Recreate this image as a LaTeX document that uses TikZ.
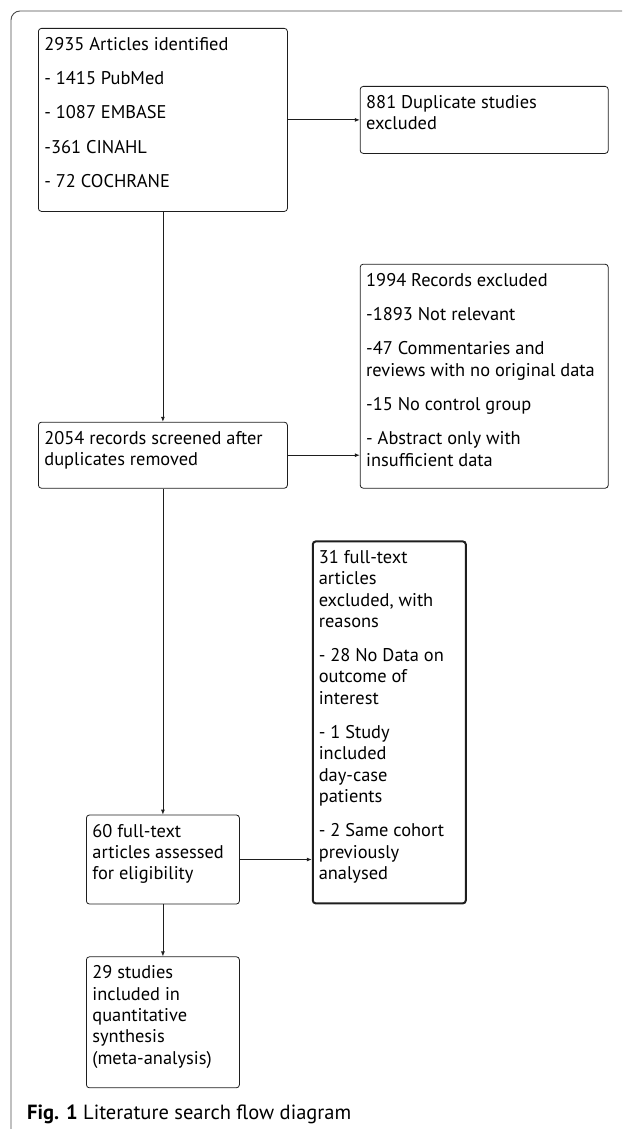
\documentclass[tikz,border=0pt]{standalone}
\usepackage{fontspec}
\setmainfont{PT Sans}
\usetikzlibrary{arrows.meta,positioning}
\definecolor{flowLine}{RGB}{30,30,30}
\colorlet{frameline}{black!70}

% fixed-size, top-aligned text block for a box
\newcommand{\boxtxt}[3]{\parbox[t][#2][t]{#1}{\raggedright\rule{0pt}{22pt}#3}}
\newcommand{\gap}{\\[13pt]}

\begin{document}
\begin{tikzpicture}[
  x=1pt,y=-1pt,
  every node/.style={font=\fontsize{18.4}{21.3}\selectfont},
  box/.style={draw=flowLine,rounded corners=3pt,line width=0.8pt,inner xsep=6pt,inner ysep=0pt,align=left},
  thickbox/.style={box,line width=2pt},
  arrow/.style={-{Latex[length=5pt,width=4pt]},line width=0.8pt,draw=flowLine}
]
\clip (0,0) rectangle (622,1129);
\draw[frameline,line width=0.9pt,rounded corners=9pt] (11,1140) -- (11,11) -- (640,11);

\node[box,anchor=north west] (ident) at (38,28) {\boxtxt{237pt}{183pt}{2935 Articles identified\gap
- 1415 PubMed\gap
- 1087 EMBASE\gap
-361 CINAHL\gap
- 72 COCHRANE}};
\node[box,right=72pt of ident] (dup) {\boxtxt{236pt}{67pt}{881 Duplicate studies\\
excluded}};
\node[box,below=210pt of ident] (screen) {\boxtxt{237pt}{66pt}{2054 records screened after\\
duplicates removed}};
\node[box,right=72pt of screen.south east,anchor=south west] (recex) {\boxtxt{236pt}{224pt}{1994 Records excluded\gap
-1893 Not relevant\gap
-47 Commentaries and\\
reviews with no original data\gap
-15 No control group\gap
- Abstract only with\\
insufficient data}};
\node[box,below=326pt of screen] (full) {\boxtxt{141pt}{89pt}{60 full-text\\
articles assessed\\
for eligibility}};
\node[thickbox,right=72pt of full.south east,anchor=south west] (ftex) {\boxtxt{141pt}{362pt}{31 full-text\\
articles\\
excluded, with\\
reasons\gap
- 28 No Data on\\
outcome of\\
interest\gap
- 1 Study\\
included\\
day-case\\
patients\gap
- 2 Same cohort\\
previously\\
analysed}};
\node[box,below=52pt of full] (incl) {\boxtxt{141pt}{131pt}{29 studies\\
included in\\
quantitative\\
synthesis\\
(meta-analysis)}};

\draw[arrow] (ident) -- (dup);
\draw[arrow] (ident) -- (screen);
\draw[arrow] (screen.east) -- (recex.west |- screen.east);
\draw[arrow] (screen) -- (full);
\draw[arrow] (full.east) -- (ftex.west |- full.east);
\draw[arrow] (full) -- (incl);

\node[anchor=base west,inner sep=0pt,font=\fontsize{20.5}{24}\selectfont] (caption) at (27,1119) {\textbf{Fig. 1} Literature search flow diagram};
\end{tikzpicture}
\end{document}
